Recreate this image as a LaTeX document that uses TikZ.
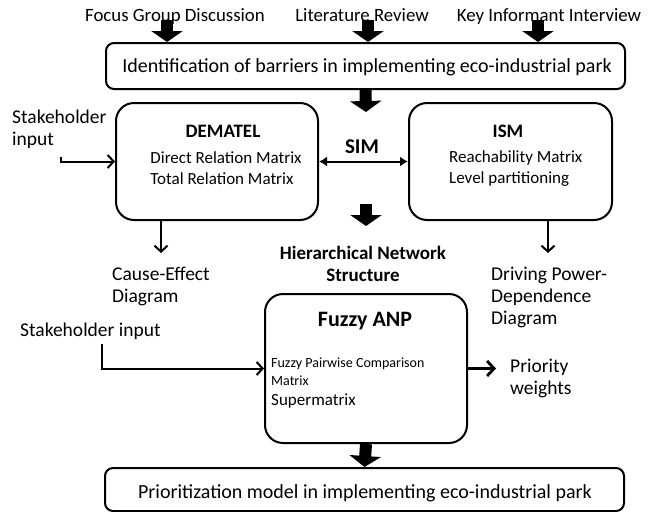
\documentclass[tikz,border=0pt]{standalone}
\usepackage{fontspec}
\setmainfont{Carlito}
\usetikzlibrary{arrows.meta}

\tikzset{
  box/.style={draw,line width=2pt,rounded corners=8pt,inner sep=0pt},
  bigbox/.style={draw,line width=2pt,rounded corners=18pt,inner sep=0pt},
  intxt/.style={inner sep=0pt,align=left,font=\fontsize{17}{21}\selectfont},
  txt/.style={inner sep=0pt,align=left,font=\fontsize{19.5}{22}\selectfont},
  boxtxt/.style={inner sep=0pt,align=center,font=\fontsize{20}{22}\selectfont},
  srctxt/.style={inner sep=0pt,anchor=base,font=\fontsize{18.8}{22}\selectfont},
  ttl/.style={inner sep=0pt,align=center,font=\bfseries\fontsize{19}{22}\selectfont},
  blockarrow/.style={line width=12pt,-{Triangle[width=31pt,length=11pt]}},
  thinarrow/.style={line width=2pt,-{Straight Barb[length=6pt,width=13pt,line width=2pt]}},
  simarrow/.style={line width=2pt,{Latex[length=8pt,width=10pt]}-{Latex[length=8pt,width=10pt]}}
}

\begin{document}
\begin{tikzpicture}[x=1pt,y=-1pt]
  \useasboundingbox (0,0) rectangle (649,512);
  \node[srctxt] (fgd) at (175,21) {Focus Group Discussion};
  \node[srctxt] (lr)  at (362,21) {Literature Review};
  \node[srctxt] (kii) at (549,21) {Key Informant Interview};
  \node[box,minimum width=519pt,minimum height=46pt] (idb) at (365.5,66) {};
  \node[boxtxt] (idbt) at (367,67) {Identification of barriers in implementing eco-industrial park};

  \node[bigbox,minimum width=202pt,minimum height=117pt] (dem) at (217,161.5) {};
  \node[ttl] (demt) at (223,131) {DEMATEL};
  \node[intxt] (demx) at (226,168.5) {Direct Relation Matrix\\Total Relation Matrix};
  \node[bigbox,minimum width=203pt,minimum height=117pt] (ism) at (510.5,161.5) {};
  \node[ttl] (ismt) at (508,131) {ISM};
  \node[intxt,anchor=west] (ismx) at (449,168.5) {Reachability Matrix\\Level partitioning};
  \node[ttl,font=\bfseries\fontsize{21}{22}\selectfont] (sim) at (362,147) {SIM};
  \node[txt,anchor=west] (sh1) at (12,129.5) {Stakeholder\\input};

  \node[ttl,font=\bfseries\fontsize{19}{22}\selectfont] (hns) at (363,264) {Hierarchical Network\\Structure};
  \node[txt,anchor=west] (ce) at (112,286) {Cause-Effect\\Diagram};
  \node[txt,anchor=west] (dp) at (491,297) {Driving Power-\\Dependence\\Diagram};
  \node[txt,anchor=west] (sh2) at (20,331) {Stakeholder input};

  \node[bigbox,minimum width=202pt,minimum height=149pt] (anp) at (366,368.5) {};
  \node[ttl,font=\bfseries\fontsize{22}{22}\selectfont] (anpt) at (365,321) {Fuzzy ANP};
  \node[intxt,anchor=west,font=\fontsize{14}{18}\selectfont] (anpx) at (271,371.5) {Fuzzy Pairwise Comparison\\Matrix};
  \node[intxt,anchor=west] (anps) at (271,401) {Supermatrix};
  \node[txt,anchor=west] (pw) at (510,378) {Priority\\weights};

  \node[box,minimum width=519pt,minimum height=43pt] (pm) at (364.5,489.5) {};
  \node[boxtxt] (pmt) at (365,493) {Prioritization model in implementing eco-industrial park};

  \coordinate (c1) at (366,112);
  \coordinate (c2) at (366,204);
  \coordinate (c3) at (366,226);
  \coordinate (s1) at (61,157);
  \coordinate (s2) at (102,344);
  \coordinate (ceTip) at (161,253);
  \coordinate (dpTip) at (548,253);
  \coordinate (pwTip) at (496,368.5);

  \draw[blockarrow] ([xshift=-8pt,yshift=1pt]fgd.base) -- ([xshift=-8pt]fgd.base |- idb.north);
  \draw[blockarrow] ([xshift=6pt,yshift=1pt]lr.base) -- ([xshift=6pt]lr.base |- idb.north);
  \draw[blockarrow] ([xshift=-11pt,yshift=1pt]kii.base) -- ([xshift=-11pt]kii.base |- idb.north);
  \draw[blockarrow] (idb.south) -- (c1);
  \draw[blockarrow] (c2) -- (c3);
  \draw[blockarrow] (anp.south) -- (pm.north);
  \draw[simarrow] (dem.east) -- (ism.west);
  \draw[thinarrow] (s1) |- (dem.west);
  \draw[thinarrow] (dem.south -| ceTip) -- (ceTip);
  \draw[thinarrow] (ism.south -| dpTip) -- (dpTip);
  \draw[thinarrow] (s2) |- (anp.west);
  \draw[line width=2.8pt,-{Straight Barb[length=7pt,width=15pt,line width=2.8pt]}] (anp.east) -- (pwTip);
\end{tikzpicture}
\end{document}
